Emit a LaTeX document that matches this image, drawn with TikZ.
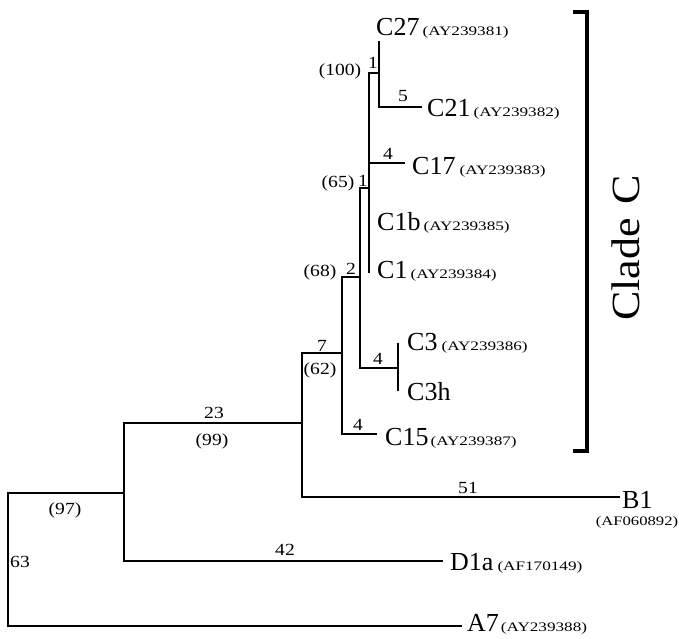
\documentclass[tikz,border=0pt]{standalone}
\usepackage{fontspec}
\setmainfont{Liberation Serif}
\usepackage{graphicx}
\newcommand{\tipfont}{\fontsize{26}{26}\selectfont}
\newcommand{\accn}[1]{\scalebox{1.32}[1]{\fontsize{13}{13}\selectfont #1}}
\newcommand{\numl}[1]{\scalebox{1.15}[1]{\fontsize{17}{17}\selectfont #1}}
\begin{document}
\begin{tikzpicture}[x=1pt,y=-1pt,
  branch/.style={line width=1.4pt},
  tiplab/.style={anchor=base west, inner sep=0pt, font=\tipfont},
  num/.style={inner sep=0pt}]
\useasboundingbox (0,0) rectangle (679,638);
% internal nodes
\coordinate (r1) at (8,493);
\coordinate (r2) at (8,626);
\coordinate (n97) at (124,493);
\coordinate (n99) at (302,423);
\coordinate (n62) at (342,353);
\coordinate (n68) at (360,277);
\coordinate (n65) at (369,188);
\coordinate (n100) at (379,73);
\coordinate (nC3) at (398,368);
% tips
\coordinate (tA7) at (462,626);
\coordinate (tD1a) at (443,561);
\coordinate (tB1) at (620,497);
\coordinate (tC15) at (377,434);
\coordinate (tC21) at (422,107);
\coordinate (tC17) at (405,163);
\coordinate (tC27) at (379,41);
\coordinate (tC1) at (369,273);
\coordinate (tC3) at (398,343);
\coordinate (tC3h) at (398,391);
% branches
\draw[branch] (n97) -- (r1) -- (r2) -- (tA7);
\draw[branch] (n99) -| (n97) |- (tD1a);
\draw[branch] (n62) -| (n99) |- (tB1);
\draw[branch] (n68) -| (n62) |- (tC15);
\draw[branch] (n65) -| (n68) |- (nC3);
\draw[branch] (n100) -| (n65) -- (tC1);
\draw[branch] (tC17) -- (tC17 -| n65);
\draw[branch] (tC27) -- (n100) |- (tC21);
\draw[branch] (tC3) -- (tC3h);
% tip labels
\node[tiplab] (lC27) at (376,35) {C27\hspace{3pt}\accn{(AY239381)}};
\node[tiplab] (lC21) at (427,116) {C21\hspace{3pt}\accn{(AY239382)}};
\node[tiplab] (lC17) at (412,174) {C17\hspace{4pt}\accn{(AY239383)}};
\node[tiplab] (lC1b) at (377,230) {C1b\hspace{3pt}\accn{(AY239385)}};
\node[tiplab] (lC1) at (377,278) {C1\hspace{3pt}\accn{(AY239384)}};
\node[tiplab] (lC3) at (407,350) {C3\hspace{4pt}\accn{(AY239386)}};
\node[tiplab] (lC3h) at (407,400) {C3h};
\node[tiplab] (lC15) at (385,445) {C15\hspace{2pt}\accn{(AY239387)}};
\node[tiplab] (lB1) at (622,508) {B1};
\node[anchor=base, inner sep=0pt] (aB1) at (637,525) {\scalebox{0.97}[1]{\accn{(AF060892)}}};
\node[tiplab] (lD1a) at (450,570) {D1a\hspace{4pt}\accn{(AF170149)}};
\node[tiplab] (lA7) at (467,631) {A7\hspace{2pt}\accn{(AY239388)}};
% branch numbers
\node[num] (b100) at (373,63) {\numl{1}};
\node[num] (s100) at (340,71) {\numl{(100)}};
\node[num] (b21) at (403,96) {\numl{5}};
\node[num] (b17) at (388,154) {\numl{4}};
\node[num] (b65) at (363,181) {\numl{1}};
\node[num] (s65) at (338,183) {\numl{(65)}};
\node[num] (b68) at (351,269) {\numl{2}};
\node[num] (s68) at (320,272) {\numl{(68)}};
\node[num] (bC3) at (378,359) {\numl{4}};
\node[num] (b62) at (322,346) {\numl{7}};
\node[num] (s62) at (320,370) {\numl{(62)}};
\node[num] (b15) at (358,425) {\numl{4}};
\node[num] (b99) at (214,413) {\numl{23}};
\node[num] (s99) at (212,441) {\numl{(99)}};
\node[num] (s97) at (65,510) {\numl{(97)}};
\node[num] (bD1a) at (285,550) {\numl{42}};
\node[num] (bA7) at (20,562) {\numl{63}};
\node[num] (bB1) at (468,488) {\numl{51}};
% clade bracket
\coordinate (k1) at (573,12);
\coordinate (k2) at (587,12);
\coordinate (k3) at (587,451);
\coordinate (k4) at (573,451);
\draw[line width=3.5pt] (k1) -- (k2) -- (k3) -- (k4);
\node[rotate=90, inner sep=0pt] (clade) at (626,248) {\scalebox{1.1}[1]{\fontsize{40}{40}\selectfont Clade\hspace{12pt}C}};
\end{tikzpicture}
\end{document}
